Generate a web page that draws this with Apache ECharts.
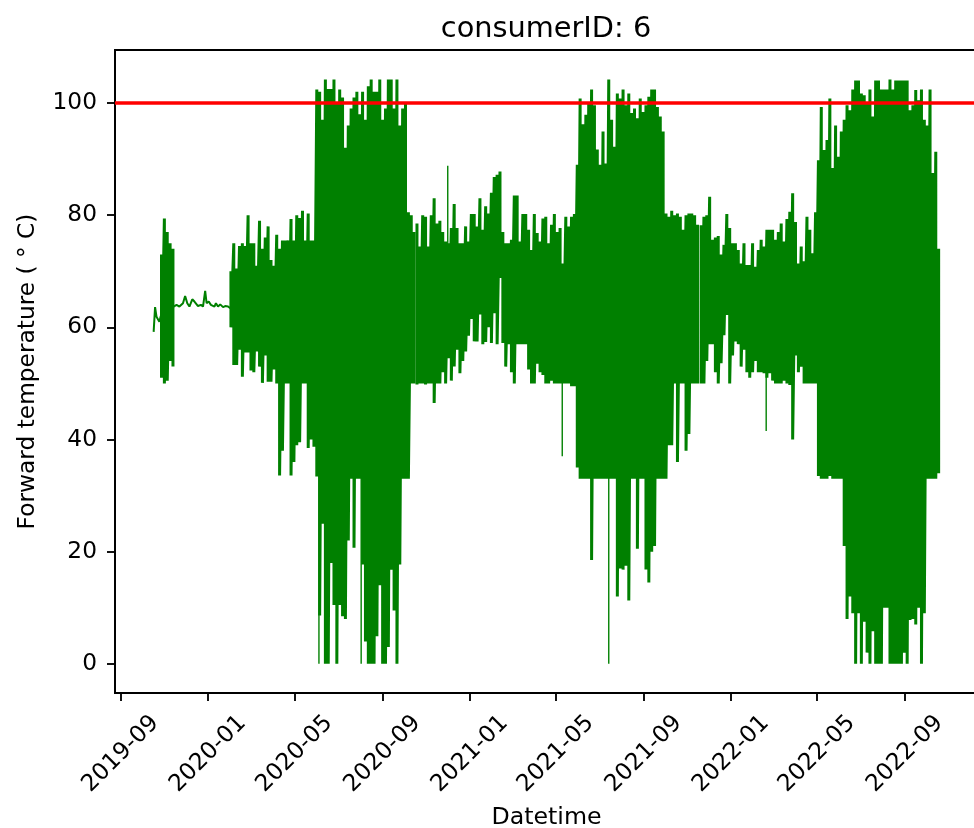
<!DOCTYPE html>
<html>
<head>
<meta charset="utf-8">
<script src="https://cdn.jsdelivr.net/npm/echarts@6/dist/echarts.min.js"></script>
<style>html,body{margin:0;padding:0;background:#fff}#c{width:974px;height:828px}</style>
</head>
<body>
<div id="c"></div>
<script>
const tickLabels = ['2019-09','2020-01','2020-05','2020-09','2021-01','2021-05','2021-09','2022-01','2022-05','2022-09'];
const yTicks = [0,20,40,60,80,100];
const threshold = 100;
const stepDays = 4;

// readings spaced stepDays apart: upper and lower edge of the oscillating signal
const burstStart = '2019-10-28';
const burstHigh = [73,79.4,77,75,74];
const burstLow = [51,50,50.5,54,53];

const seg1Start = '2020-02-02';
const seg1High = [
 70,75,70.5,74.5,75,74.5,80,75,75,71,
 79,74,76,78,72,71,76.5,74,75.5,75.5,
 75.5,79.3,75.5,80,79.5,80.8,75.5,80.3,75.5,75.5,
 102.4,102,97,104.2,102.5,102.5,104.2,100,102.4,101,
 92,96,99,101,102,98,102,97,103,104.2,
 102,102,104.2,97,99,104.2,104.2,99,104.2,96,
 99,100,80.5,80,77];
const seg1Low = [
 60,53.3,53.3,56,51.2,55.5,55.5,52.3,52,55.7,
 53,50.1,55,50.3,50.3,52.5,50,33.6,38,50,
 50,33.6,36,39,39.5,50,50,38.5,40,38.7,
 33.4,8.6,25,0,0,18,10.5,0,10.5,8.5,
 8,22,33,20.7,33,33,17.7,4,0,0,
 0,4.9,14,0,0,3,16.8,9.5,0,17.7,
 33,33,33,50,50];

const seg2Start = '2020-10-19';
const seg2High = [
 78.5,74.4,80,79.7,74.4,80,83,78.5,79,77,
 75.3,75,77.7,82,77.7,75,75,78,75.3,80.2,
 80.2,78,83,77.4,81.6,80.3,84,86.8,87.2,87.8,
 77,75,75,75.6,83.5,83.5,75.3,80.2,80.2,77.4,
 73.8,80.2,76.8,75.3,79.4,79.7,75,78.3,80.2,77,
 77.7,71.4,79.7,78,79.7,80.2,89,100.8,96.2,97.9,
 100,102.4,99.6,91.7,89,94.9,89.2,104.2,97,92.2,
 101.7,100.8,102.4,99.6,101.7,98.2,99,97.3,100.8,98.4,
 99.6,101.1,102.4,102.4,99.3,97.6,94.9,80.3,79.7,80.8,
 80,80.3,79.7,77.4,80,80.3,80.3,80,78.3];
const seg2Low = [
 49.8,50,50,49.8,50,50,46.5,50,50,52,
 50,54.5,50.5,53,56,51.8,54,55.7,58.5,61.5,
 57.5,57.5,62.3,57,57.4,60,57.2,62.5,57,68.8,
 57.2,53,57,52,50,57,57,57,57,52.5,
 50,50,53.5,52,51.5,50,50,50.5,50,50,
 50,50,50,50,49.5,49.5,35,33,33,33,
 33,18.5,33,33,33,33,33,33,33,33,
 12,17,16.8,17.5,11.3,33,33,20.5,33,33,
 16.8,14.5,20,21,33,33,33,33,39,39,
 50,36,50,50,38,41,50,50,50];

const seg3Start = '2021-11-20';
const seg3High = [
 78.2,79.7,80,83.3,75.6,76,76.3,73,74.7,80.2,
 77.7,75,75,73.8,71.4,75,71.1,71.1,75,70.8,
 73.8,75.6,74.4,77.4,77.4,77.4,75.6,77,78.5,75.3,
 79.3,80.6,83.9,78.8,71.4,74.4,71.8,79.7,77.4,73.2,
 80.5,89.8,99.3,91.6,93.4,100.8,88.4,96,90.4,94.9,
 97,99.6,98.7,102.4,104,104,101.7,101.4,100.2,102.4,
 97.6,104,104,102.4,102.4,102.4,104.2,102.4,104,104,
 104,104,104,98.7,99.6,102.3,100.5,102.4,97,96,
 102.4,87.5,91.3,74];
const seg3Low = [
 50,50,54,57,57,52,50,53.6,58.6,62.2,
 50,55,57.5,57,53,56,52,51,52,54,
 52,52,51.8,51,51.8,50.5,50,50,50,50.5,
 50,49.7,40,55,52,53,50,50,50,50,
 50,33.5,33,33,33,33.5,33,33,33,33,
 21,8,12,9,0,9,0,7.5,2,0,
 5.8,0,0,0,10,10,0,0,0,0,
 0,2,0,7.8,8,7,10,0,9,33,
 33,33,33,34];

// quiet stretches where the signal barely moves
const quietDates = ['2019-10-17','2019-10-19','2019-10-21','2019-10-23','2019-10-25','2019-10-27',null,
 '2019-11-14','2019-11-18','2019-11-22','2019-11-27','2019-11-30','2019-12-03','2019-12-06','2019-12-10','2019-12-13','2019-12-18','2019-12-22','2019-12-25','2019-12-28','2019-12-30','2020-01-02','2020-01-05','2020-01-10','2020-01-12','2020-01-15','2020-01-18','2020-01-22','2020-01-25','2020-01-29','2020-02-01'];
const quietValues = [59.2,63.6,61.9,61.6,61,62,null,
 63.7,64,63.7,64.3,65.6,64.3,63.7,65,64.6,63.8,64,63.7,66.5,64.3,64.6,64,63.7,64.3,63.7,64.1,63.6,63.8,63.7,63.4];

// isolated single readings that stand apart from the band
const spikeDates = ['2020-06-04','2020-08-02','2020-12-01','2021-05-10','2021-07-14','2022-02-19'];
const spikeEnds = [0,0,88.8,37,0,41.5];
const spikeBase = 65;

const DAY = 86400000;
function band(start, hi, lo) {
  const t0 = Date.parse(start), out = [];
  hi.forEach((h, i) => {
    const t = t0 + i * stepDays * DAY;
    out.push([t, h], [t, lo[i]]);
  });
  return out;
}
const tickTimes = tickLabels.map(s => Date.parse(s + '-01'));
const xMin = Date.parse('2019-08-24');
const xMax = Date.parse('2022-12-12');
const GREEN = '#008000';

const bandStyle = { color: GREEN, width: 3, join: 'bevel', cap: 'butt' };
const bandSeries = (data) => ({
  type: 'line', data, showSymbol: false, symbol: 'none',
  lineStyle: bandStyle, silent: true, z: 2
});
const spikeData = [];
spikeDates.forEach((d, i) => {
  const t = Date.parse(d);
  spikeData.push([t, spikeBase], [t, spikeEnds[i]], [t, null]);
});
const quietData = quietDates.map((d, i) => d === null ? [xMin, null] : [Date.parse(d), quietValues[i]]);

const chart = echarts.init(document.getElementById('c'), null, { renderer: 'canvas' });
const FONT = 'DejaVu Sans';
const AX = { color: '#000', width: 1.85 };
chart.setOption({
  animation: false,
  backgroundColor: '#fff',
  textStyle: { fontFamily: FONT, color: '#000' },
  title: {
    text: 'consumerID: 6', left: 541, top: 10, textAlign: 'center',
    textStyle: { fontFamily: FONT, fontWeight: 'normal', fontSize: 28.8, color: '#000' }
  },
  grid: { left: 115, top: 50, width: 863, height: 643, outerBoundsMode: 'none', containLabel: false,
          show: true, borderColor: '#000', borderWidth: 1.85, backgroundColor: 'transparent' },
  xAxis: {
    type: 'value', min: xMin, max: xMax, scale: true,
    name: 'Datetime', nameLocation: 'middle', nameGap: 113,
    nameTextStyle: { fontFamily: FONT, fontSize: 23.7, color: '#000' },
    axisLine: { show: true, onZero: false, lineStyle: AX },
    axisTick: { show: true, customValues: tickTimes, length: 8, lineStyle: AX },
    axisLabel: {
      customValues: tickTimes, rotate: 45, margin: 61, align: 'center', verticalAlign: 'middle',
      fontFamily: FONT, fontSize: 23.3, color: '#000', hideOverlap: false,
      formatter: v => new Date(v).toISOString().slice(0, 7)
    },
    splitLine: { show: false }
  },
  yAxis: {
    type: 'value', min: -5.2, max: 109.45,
    name: 'Forward temperature ( \u00B0 C)', nameLocation: 'middle', nameGap: 76, nameRotate: 90,
    nameTextStyle: { fontFamily: FONT, fontSize: 23.3, color: '#000' },
    axisLine: { show: true, onZero: false, lineStyle: AX },
    axisTick: { show: true, customValues: yTicks, length: 8, lineStyle: AX },
    axisLabel: { customValues: yTicks, margin: 18, padding: [6, 0, 0, 0], fontFamily: FONT, fontSize: 23.3, color: '#000', formatter: v => String(v) },
    splitLine: { show: false }
  },
  series: [
    bandSeries(band(burstStart, burstHigh, burstLow)),
    bandSeries(band(seg1Start, seg1High, seg1Low)),
    bandSeries(band(seg2Start, seg2High, seg2Low)),
    bandSeries(band(seg3Start, seg3High, seg3Low)),
    { type: 'line', data: quietData, showSymbol: false, symbol: 'none', connectNulls: false, silent: true,
      lineStyle: { color: GREEN, width: 2 }, z: 2 },
    { type: 'line', data: spikeData, showSymbol: false, symbol: 'none', connectNulls: false, silent: true,
      lineStyle: { color: GREEN, width: 1.4 }, z: 2 },
    { type: 'line', data: [[xMin, threshold], [xMax, threshold]], showSymbol: false, symbol: 'none', silent: true,
      lineStyle: { color: '#ff0000', width: 3.5 }, z: 5 }
  ]
});
</script>
</body>
</html>
